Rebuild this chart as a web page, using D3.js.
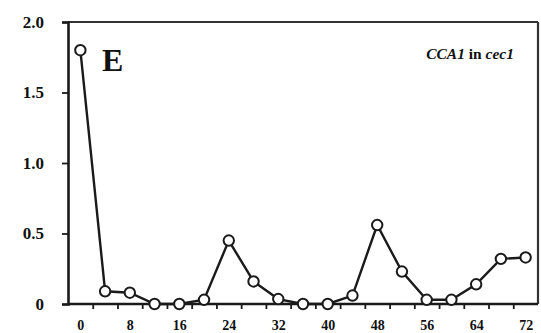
<!DOCTYPE html>
<html>
<head>
<meta charset="utf-8">
<script src="https://cdn.jsdelivr.net/npm/d3@7"></script>
<style>
  html, body { margin: 0; padding: 0; background: #fff; }
  svg { display: block; }
  text { font-family: "Liberation Serif", "Times New Roman", serif; font-weight: bold; fill: #111; }
</style>
</head>
<body>
<svg id="chart" width="541" height="333"></svg>
<script>
// Sampling times (h) and relative CCA1 expression in cec1
const hours = [0, 4, 8, 12, 16, 20, 24, 28, 32, 36, 40, 44, 48, 52, 56, 60, 64, 68, 72];
const expression = [1.80, 0.09, 0.08, 0.00, 0.00, 0.03, 0.45, 0.16, 0.035, 0.00, 0.00, 0.06, 0.56, 0.23, 0.03, 0.03, 0.14, 0.32, 0.33];
const xTickLabels = [0, 8, 16, 24, 32, 40, 48, 56, 64, 72];
const yTickValues = [0, 0.5, 1.0, 1.5, 2.0];
const panelLetter = "E";

const svg = d3.select("#chart");
const plotLeft = 68, plotRight = 538, plotTop = 22, plotBottom = 304;

// Each sample occupies a 4 h slot; tick marks sit on slot boundaries
const x = d3.scaleLinear().domain([-2, 74]).range([plotLeft, plotRight]);
const y = d3.scaleLinear().domain([0, 2]).range([plotBottom, plotTop]);

const ink = "#1a1a1a";
const serif = "'Liberation Serif', 'Times New Roman', serif";

// Frame: top and right borders
svg.append("line").attr("x1", plotLeft).attr("x2", plotRight).attr("y1", plotTop).attr("y2", plotTop)
  .attr("stroke", "#333").attr("stroke-width", 2.2);
svg.append("line").attr("x1", plotRight).attr("x2", plotRight).attr("y1", plotTop).attr("y2", plotBottom)
  .attr("stroke", "#333").attr("stroke-width", 2.2);

// Y axis
const yAxis = svg.append("g").attr("transform", `translate(${plotLeft},0)`)
  .call(d3.axisLeft(y).tickValues(yTickValues).tickSize(6).tickPadding(18)
    .tickFormat(d => d === 0 ? "0" : d3.format(".1f")(d)));
yAxis.attr("font-family", null);
yAxis.select(".domain").attr("stroke", ink).attr("stroke-width", 2.6);
yAxis.selectAll(".tick line").attr("stroke", ink).attr("stroke-width", 1.8);
yAxis.selectAll(".tick text").attr("font-size", 17).style("font-family", serif).style("font-weight", "bold").attr("fill", "#111");

// X axis: boundary ticks
const boundaryTicks = d3.range(2, 72, 4);
const xAxis = svg.append("g").attr("transform", `translate(0,${plotBottom})`)
  .call(d3.axisBottom(x).tickValues(boundaryTicks).tickSize(5).tickFormat(""));
xAxis.select(".domain").attr("d", `M${plotLeft},0H${plotRight}`).attr("stroke", ink).attr("stroke-width", 2.6);
xAxis.selectAll(".tick line").attr("stroke", ink).attr("stroke-width", 1.8);

// X axis labels under every other sample
const xLabels = svg.append("g").attr("transform", `translate(0,${plotBottom})`)
  .call(d3.axisBottom(x).tickValues(xTickLabels).tickSize(0).tickFormat(d3.format("d")));
xLabels.attr("font-family", null);
xLabels.select(".domain").remove();
xLabels.selectAll(".tick text")
  .attr("dy", null).attr("y", 26)
  .attr("font-size", 14).style("font-family", serif).style("font-weight", "bold").attr("fill", "#111");

// Expression line
const data = hours.map((h, i) => ({ h, v: expression[i] }));
svg.append("path").datum(data)
  .attr("fill", "none").attr("stroke", ink).attr("stroke-width", 2.4)
  .attr("d", d3.line().x(d => x(d.h)).y(d => y(d.v)));

// Open circle markers
svg.append("g").selectAll("circle").data(data).join("circle")
  .attr("cx", d => x(d.h)).attr("cy", d => y(d.v)).attr("r", 5.2)
  .attr("fill", "#fff").attr("stroke", ink).attr("stroke-width", 2);

// Panel letter
svg.append("text").attr("x", 102).attr("y", 71).attr("font-size", 32).text(panelLetter);

// Title: gene in mutant background
const title = svg.append("text").attr("x", 514).attr("y", 59).attr("text-anchor", "end").attr("font-size", 15.5);
title.append("tspan").attr("font-style", "italic").text("CCA1");
title.append("tspan").text(" in ");
title.append("tspan").attr("font-style", "italic").text("cec1");
</script>
</body>
</html>
